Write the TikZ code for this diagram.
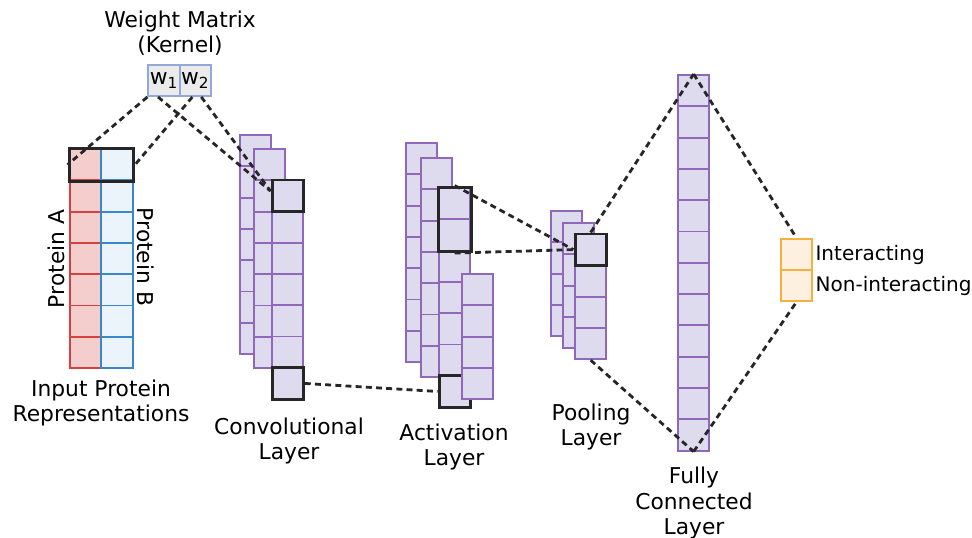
\documentclass[tikz,border=0pt]{standalone}
\usepackage{fontspec}
\setmainfont{DejaVu Sans}
\usepackage{xcolor}
\definecolor{redE}{HTML}{D4413F}
\definecolor{redF}{HTML}{F4CDCD}
\definecolor{blueE}{HTML}{3A86CB}
\definecolor{blueF}{HTML}{EBF3FB}
\definecolor{purE}{HTML}{9068BA}
\definecolor{purF}{HTML}{DFDBEF}
\definecolor{kerE}{HTML}{92A9D8}
\definecolor{kerF}{HTML}{EBEBEB}
\definecolor{orE}{HTML}{F5B13D}
\definecolor{orF}{HTML}{FDF0E0}
\usepackage{tikz}
\usetikzlibrary{positioning, fit, calc}

\begin{document}
\begin{tikzpicture}[x=0.02cm, y=-0.02cm,
  cell/.style={draw, rectangle, inner sep=0pt, minimum width=0.626cm,
    minimum height=0.626cm, line width=1.1pt},
  cellA/.style={cell, draw=redE, fill=redF},
  cellB/.style={cell, draw=blueE, fill=blueF},
  cellP/.style={cell, draw=purE, fill=purF},
  cellK/.style={cell, draw=kerE, fill=kerF, minimum height=0.62cm},
  cellO/.style={cell, draw=orE, fill=orF, minimum height=0.62cm},
  hl/.style={draw=black!85, line width=1.7pt, inner sep=0pt,
    minimum width=0.626cm, minimum height=0.626cm},
  link/.style={line width=1.6pt, dash pattern=on 3.4pt off 2.4pt, black!85},
  lbl/.style={font=\fontsize{12.4}{14.3}\selectfont, align=center},
  outlbl/.style={font=\fontsize{11.4}{13.6}\selectfont, inner sep=0pt}
]
  \useasboundingbox (0,0) rectangle (972,537);

  % Kernel
  \node[cellK, lbl] (w1) at (164, 80.5) {w\textsubscript{1}};
  \node[cellK, lbl] (w2) at (195.3, 80.5) {w\textsubscript{2}};
  \node[lbl] (kernelLbl) at (180, 33) {Weight Matrix\\(Kernel)};

  % Input representations
  \foreach \i in {0,...,6} {
    \node[cellA] (inA-\i) at (85.65, {164.65+31.3*\i}) {};
    \node[cellB] (inB-\i) at (116.95, {164.65+31.3*\i}) {};
  }
  \node[hl, fit=(inA-0)(inB-0)] (inHL) {};
  \node[lbl, rotate=90] (protA) at (56, 259) {Protein A};
  \node[lbl, rotate=-90] (protB) at (146, 257) {Protein B};
  \node[lbl] (inLbl) at (101, 403) {Input Protein\\Representations};

  % Convolutional layer
  \foreach \i in {0,...,6} {
    \node[cellP] (convA-\i) at (255.65, {150.65+31.3*\i}) {};
  }
  \foreach \i in {0,...,6} {
    \node[cellP] (convB-\i) at (269.65, {164.65+31.3*\i}) {};
  }
  \foreach \i in {0,...,6} {
    \node[cellP] (convC-\i) at (287.65, {195.65+31.3*\i}) {};
  }
  \node[hl] (convTop) at (convC-0) {};
  \node[hl] (convBot) at (convC-6) {};
  \node[lbl] (convLbl) at (289, 441) {Convolutional\\Layer};

  % Activation layer
  \foreach \i in {0,...,6} {
    \node[cellP] (actA-\i) at (421.65, {158.65+31.3*\i}) {};
  }
  \foreach \i in {0,...,6} {
    \node[cellP] (actB-\i) at (436.65, {173.65+31.3*\i}) {};
  }
  \foreach \i in {0,...,6} {
    \node[cellP] (actC-\i) at (454.65, {203.65+31.3*\i}) {};
  }
  \node[hl, fit=(actC-0)(actC-1)] (actHL) {};
  \node[hl] (actBot) at (actC-6) {};
  \foreach \i in {0,...,3} {
    \node[cellP] (actD-\i) at (477.65, {289.65+31.3*\i}) {};
  }
  \node[lbl] (actLbl) at (454, 447) {Activation\\Layer};

  % Pooling layer
  \foreach \i in {0,...,3} {
    \node[cellP] (poolA-\i) at (566.65, {226.65+31.3*\i}) {};
  }
  \foreach \i in {0,...,3} {
    \node[cellP] (poolB-\i) at (578.65, {238.65+31.3*\i}) {};
  }
  \foreach \i in {0,...,3} {
    \node[cellP] (poolC-\i) at (590.65, {249.65+31.3*\i}) {};
  }
  \node[hl] (poolTop) at (poolC-0) {};
  \node[lbl] (poolLbl) at (591, 427) {Pooling\\Layer};

  % Fully connected layer
  \foreach \i in {0,...,11} {
    \node[cellP] (fc-\i) at (693.65, {90.65+31.3*\i}) {};
  }
  \node[lbl] (fcLbl) at (694, 503) {Fully\\Connected\\Layer};

  % Output
  \node[cellO] (out-0) at (796.5, 254.5) {};
  \node[cellO] (out-1) at (796.5, 285.5) {};
  \node[outlbl, right=1.2pt of out-0] (yesLbl) {Interacting};
  \node[outlbl, right=1.2pt of out-1] (noLbl) {Non-interacting};

  % Dashed links
  \draw[link] (w1.south west) -- (inHL.west);
  \draw[link] (w2.-100) -- (inHL.east);
  \draw[link] (w1.-110) -- (convTop.165);
  \draw[link] (w2.-70) -- (convTop.165);
  \draw[link] (convBot.east) -- (actBot.west);
  \draw[link] (actHL.north) -- (poolTop.west);
  \draw[link] (actHL.south) -- (poolTop.west);
  \draw[link] (poolTop.north) -- (fc-0.north);
  \draw[link] (poolC-3.south) -- (fc-11.south);
  \draw[link] (fc-0.north) -- (out-0.north);
  \draw[link] (fc-11.south) -- (out-1.south);
\end{tikzpicture}
\end{document}
